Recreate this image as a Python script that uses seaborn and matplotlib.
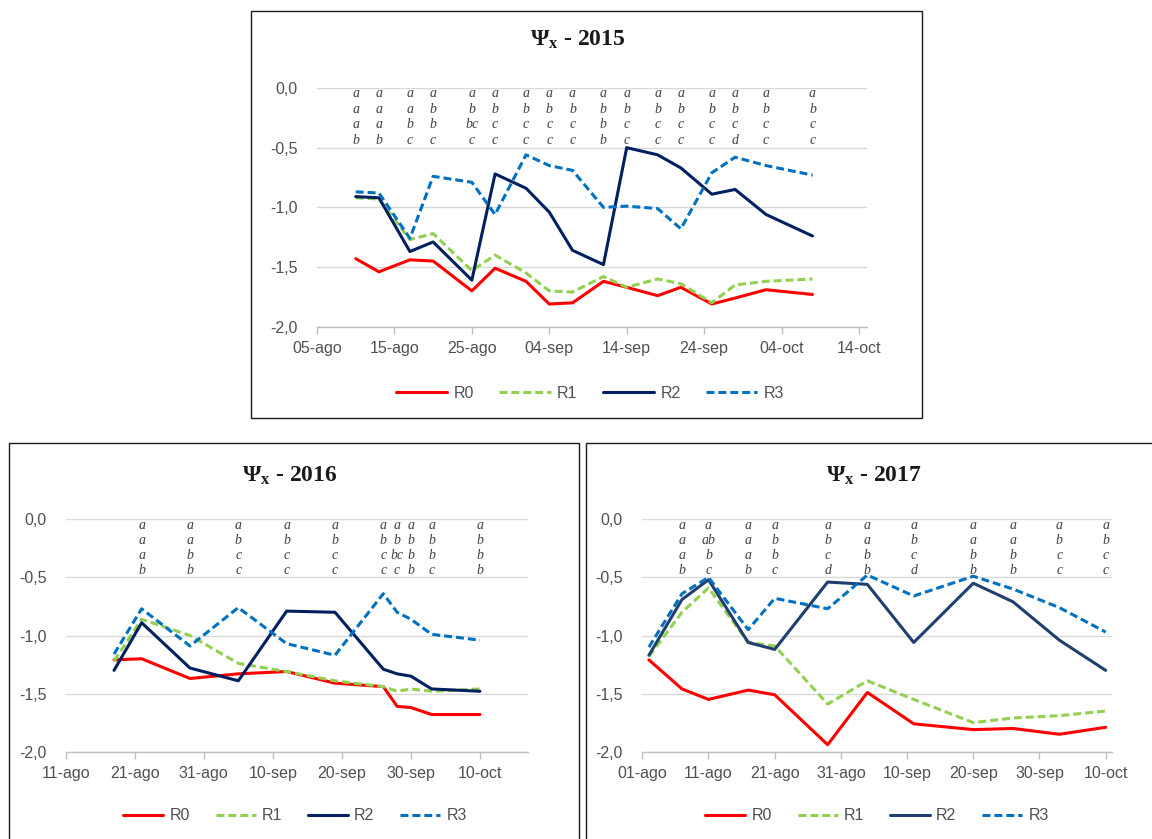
import pandas as pd
import numpy as np
import matplotlib

matplotlib.use('Agg')
import matplotlib.pyplot as plt
from matplotlib.patches import Rectangle
import seaborn as sns

# ---------------- datos ----------------
series = ['R0', 'R1', 'R2', 'R3']

dates_2015 = ['2015-08-10', '2015-08-13', '2015-08-17', '2015-08-20', '2015-08-25', '2015-08-28',
              '2015-09-01', '2015-09-04', '2015-09-07', '2015-09-11', '2015-09-14', '2015-09-18',
              '2015-09-21', '2015-09-25', '2015-09-28', '2015-10-02', '2015-10-08']
r0_2015 = [-1.43, -1.54, -1.44, -1.45, -1.70, -1.51, -1.62, -1.81, -1.80, -1.62, -1.67, -1.74, -1.67, -1.81, -1.76, -1.69, -1.73]
r1_2015 = [-0.92, -0.93, -1.27, -1.22, -1.53, -1.40, -1.55, -1.70, -1.71, -1.58, -1.67, -1.60, -1.64, -1.80, -1.65, -1.62, -1.60]
r2_2015 = [-0.91, -0.92, -1.37, -1.29, -1.61, -0.72, -0.84, -1.04, -1.36, -1.48, -0.50, -0.56, -0.67, -0.89, -0.85, -1.06, -1.24]
r3_2015 = [-0.87, -0.88, -1.26, -0.74, -0.79, -1.06, -0.56, -0.65, -0.69, -1.00, -0.99, -1.01, -1.18, -0.71, -0.58, -0.65, -0.73]
letters_2015 = ['a a a b', 'a a a b', 'a a b c', 'a b b c', 'a b bc c', 'a b c c', 'a b c c', 'a b c c',
                'a b c c', 'a b b b', 'a b c c', 'a b c c', 'a b c c', 'a b c c', 'a b c d', 'a b c c', 'a b c c']

dates_2016 = ['2016-08-18', '2016-08-22', '2016-08-29', '2016-09-05', '2016-09-12', '2016-09-19',
              '2016-09-26', '2016-09-28', '2016-09-30', '2016-10-03', '2016-10-10']
r0_2016 = [-1.21, -1.20, -1.37, -1.33, -1.31, -1.41, -1.44, -1.61, -1.62, -1.68, -1.68]
r1_2016 = [-1.22, -0.86, -1.00, -1.24, -1.31, -1.39, -1.44, -1.48, -1.46, -1.48, -1.46]
r2_2016 = [-1.30, -0.89, -1.28, -1.39, -0.79, -0.80, -1.29, -1.33, -1.35, -1.46, -1.48]
r3_2016 = [-1.16, -0.77, -1.09, -0.76, -1.07, -1.17, -0.64, -0.80, -0.86, -0.99, -1.04]
letters_2016 = ['', 'a a a b', 'a a b b', 'a b c c', 'a b c c', 'a b c c', 'a b c c', 'a b bc c',
                'a b b b', 'a b b c', 'a b b b']

dates_2017 = ['2017-08-02', '2017-08-07', '2017-08-11', '2017-08-17', '2017-08-21', '2017-08-29',
              '2017-09-04', '2017-09-11', '2017-09-20', '2017-09-26', '2017-10-03', '2017-10-10']
r0_2017 = [-1.21, -1.46, -1.55, -1.47, -1.51, -1.94, -1.49, -1.76, -1.81, -1.80, -1.85, -1.79]
r1_2017 = [-1.18, -0.80, -0.59, -1.06, -1.09, -1.59, -1.39, -1.55, -1.75, -1.71, -1.69, -1.65]
r2_2017 = [-1.17, -0.69, -0.52, -1.06, -1.12, -0.54, -0.56, -1.06, -0.55, -0.71, -1.04, -1.30]
r3_2017 = [-1.10, -0.64, -0.50, -0.95, -0.68, -0.77, -0.48, -0.66, -0.49, -0.60, -0.76, -0.97]
letters_2017 = ['', 'a a a b', 'a ab b c', 'a a a b', 'a b b c', 'a b c d', 'a a b b', 'a b c d',
                'a a b b', 'a a b b', 'a b c c', 'a b c c']

meses = {8: 'ago', 9: 'sep', 10: 'oct'}
yticks = [0.0, -0.5, -1.0, -1.5, -2.0]

# ---------------- estilo ----------------
sns.set_style('white')
plt.rcParams['font.family'] = ['Liberation Sans', 'DejaVu Sans']
plt.rcParams['mathtext.fontset'] = 'custom'
plt.rcParams['mathtext.rm'] = 'Liberation Serif:bold'
plt.rcParams['mathtext.bf'] = 'Liberation Serif:bold'
plt.rcParams['mathtext.it'] = 'Liberation Serif:bold'

W, H = 1152, 839
fig = plt.figure(figsize=(W / 100, H / 100), dpi=100)
fig.patch.set_facecolor('white')


def px_rect(x0, y0, x1, y1):
    # caja en pixeles (origen arriba-izquierda) -> fracciones de figura
    return [x0 / W, 1 - y1 / H, (x1 - x0) / W, (y1 - y0) / H]


def draw_panel(rect, year, dates, vals, letters, xlim, r2_color, title_xy, legend_xy, handlelen):
    ax = fig.add_axes(rect)
    df = pd.DataFrame({'fecha': pd.to_datetime(dates)})
    for name, v in zip(series, vals):
        df[name] = v
    long = df.melt(id_vars='fecha', var_name='serie', value_name='psi')
    palette = {'R0': '#FF0000', 'R1': '#92D050', 'R2': r2_color, 'R3': '#0070C0'}
    dashes = {'R0': '', 'R1': (2.6, 1.3), 'R2': '', 'R3': (2.6, 1.3)}
    sns.lineplot(data=long, x='fecha', y='psi', hue='serie', style='serie', palette=palette,
                 dashes=dashes, linewidth=2.2, ax=ax, legend=True)

    ax.set_xlim(pd.Timestamp(xlim[0]), pd.Timestamp(xlim[1]))
    ax.set_ylim(-2.0, 0.0)
    ticks = pd.date_range(xlim[0], xlim[1], freq='10D')
    ax.set_xticks(ticks)
    ax.set_xticklabels([f"{t.day:02d}-{meses[t.month]}" for t in ticks])
    ax.set_yticks(yticks)
    ax.set_yticklabels([f"{v:.1f}".replace('.', ',') for v in yticks])
    ax.set_xlabel('')
    ax.set_ylabel('')
    ax.grid(axis='y', color='#D9D9D9', linewidth=1.0)
    ax.grid(axis='x', visible=False)
    ax.set_axisbelow(True)
    for s in ['top', 'right', 'left']:
        ax.spines[s].set_visible(False)
    ax.spines['bottom'].set_color('#BFBFBF')
    ax.spines['bottom'].set_linewidth(1.0)
    ax.tick_params(axis='x', direction='out', length=5, width=1, color='#BFBFBF',
                   labelsize=11.5, labelcolor='#505050', pad=5, bottom=True)
    ax.tick_params(axis='y', length=0, labelsize=11.5, labelcolor='#505050', pad=14, left=False)

    # letras de significancia
    rows_y = [-0.05, -0.18, -0.31, -0.44]
    for d, col in zip(df['fecha'], letters):
        if not col:
            continue
        for yy, lt in zip(rows_y, col.split()):
            ax.text(d, yy, lt, ha='center', va='center', fontsize=10, style='italic',
                    family=['Liberation Serif', 'DejaVu Serif'], color='#404040')

    handles, labels = ax.get_legend_handles_labels()
    ax.get_legend().remove()
    fig.legend(handles, labels, loc='center', bbox_to_anchor=(legend_xy[0] / W, 1 - legend_xy[1] / H),
               ncol=4, frameon=False, fontsize=11.5, handlelength=handlelen, handletextpad=0.4,
               columnspacing=1.6, labelcolor='#505050')

    fig.text(title_xy[0] / W, 1 - title_xy[1] / H, r"$\mathrm{\Psi}_{\mathrm{x}}$" + f" - {year}",
             ha='center', va='center', fontsize=17, fontweight='bold',
             family=['Liberation Serif', 'DejaVu Serif'], color='#1a1a1a')
    return ax


draw_panel(px_rect(317, 88, 866.7, 326.7), 2015, dates_2015, [r0_2015, r1_2015, r2_2015, r3_2015],
           letters_2015, ('2015-08-05', '2015-10-15'), '#002060', (578, 40), (590, 393), 3.2)
draw_panel(px_rect(65.7, 519.3, 528.3, 751.7), 2016, dates_2016, [r0_2016, r1_2016, r2_2016, r3_2016],
           letters_2016, ('2016-08-11', '2016-10-17'), '#002060', (290, 476), (295, 816), 2.5)
draw_panel(px_rect(642.3, 519.3, 1112.3, 751.7), 2017, dates_2017, [r0_2017, r1_2017, r2_2017, r3_2017],
           letters_2017, ('2017-08-01', '2017-10-11'), '#1F3F6E', (874, 476), (877, 816), 2.5)

# marcos de cada grafico
for x0, y0, x1, y1 in [(250.7, 10.7, 921.7, 418), (9.3, 443.3, 579, 860), (586, 443.3, 1170, 860)]:
    fig.add_artist(Rectangle((x0 / W, 1 - y1 / H), (x1 - x0) / W, (y1 - y0) / H,
                             transform=fig.transFigure, fill=False, ec='#1a1a1a', lw=1.0))

fig.savefig('out.png', dpi=100)
